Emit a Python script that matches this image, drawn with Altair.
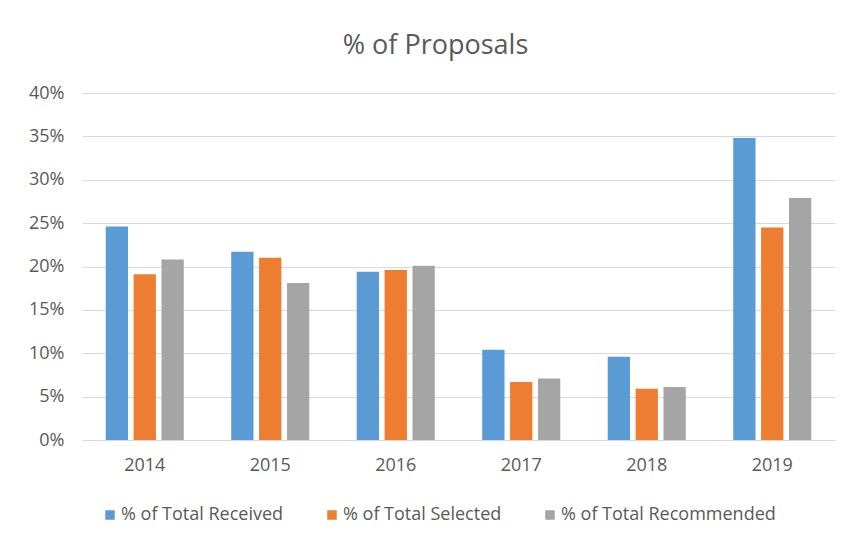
import altair as alt
import pandas as pd

years = ["2014", "2015", "2016", "2017", "2018", "2019"]
series = ["% of Total Received", "% of Total Selected", "% of Total Recommended"]
received = [0.246, 0.217, 0.194, 0.104, 0.096, 0.348]
selected = [0.191, 0.210, 0.196, 0.067, 0.059, 0.245]
recommended = [0.208, 0.181, 0.201, 0.071, 0.061, 0.279]
colors = ["#5B9BD5", "#ED7D31", "#A5A5A5"]

rows = []
for name, vals in zip(series, [received, selected, recommended]):
    for y, v in zip(years, vals):
        rows.append({"Year": y, "Series": name, "Value": v})
df = pd.DataFrame(rows)

FONT = "Open Sans"
TXT = "#595959"

chart = alt.Chart(df).mark_bar().encode(
    x=alt.X("Year:N", sort=years, title=None,
            scale=alt.Scale(paddingInner=0.378, paddingOuter=0.189),
            axis=alt.Axis(labelAngle=0, ticks=False, domainColor="#D9D9D9",
                          labelPadding=16, labelFontSize=18, labelColor=TXT, labelFont=FONT)),
    xOffset=alt.XOffset("Series:N", sort=series,
                        scale=alt.Scale(paddingInner=0.2, paddingOuter=0)),
    y=alt.Y("Value:Q", title=None,
            scale=alt.Scale(domain=[0, 0.4]),
            axis=alt.Axis(format=".0%", values=[0, 0.05, 0.1, 0.15, 0.2, 0.25, 0.3, 0.35, 0.4],
                          ticks=False, domain=False, gridColor="#D9D9D9", gridWidth=1,
                          labelPadding=18, labelFontSize=18, labelColor=TXT, labelFont=FONT)),
    color=alt.Color("Series:N", sort=series,
                    scale=alt.Scale(domain=series, range=colors),
                    legend=alt.Legend(title=None, orient="none", legendX=19, legendY=413,
                                      direction="horizontal", padding=0,
                                      symbolType="square", symbolSize=90, symbolStrokeWidth=0,
                                      labelFontSize=18, labelColor=TXT, labelFont=FONT,
                                      labelLimit=0, columnPadding=39, labelOffset=2)),
).properties(
    width=753, height=347,
    title=alt.TitleParams("% of Proposals", fontSize=27, font=FONT, color=TXT,
                          fontWeight="normal", anchor="middle", offset=24, dx=-23),
    autosize=alt.AutoSizeParams(type="none"),
    padding={"left": 74, "top": 85, "right": 10, "bottom": 100},
).configure_view(stroke=None)

chart.save("out.html", embed_options={"renderer": "svg", "actions": False})
